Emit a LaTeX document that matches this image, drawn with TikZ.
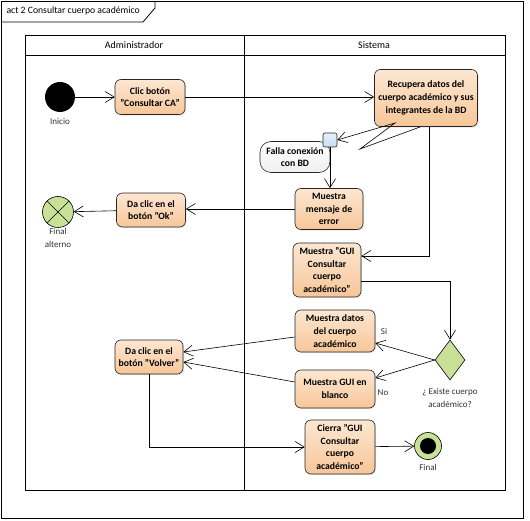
\documentclass[tikz,border=0pt]{standalone}
\usepackage{fontspec}
\setmainfont{Carlito}
\usetikzlibrary{arrows.meta,shapes.geometric,shadows}

\definecolor{naranjaclaro}{RGB}{252,231,210}
\definecolor{naranja}{RGB}{247,198,152}
\definecolor{verdefin}{RGB}{200,225,150}
\definecolor{azulpin}{RGB}{196,220,245}

\tikzset{
  flujo/.style={-{Straight Barb[length=9pt,width=11pt]}, line width=0.6pt},
  accion/.style={draw=black!85, line width=0.6pt, rounded corners=6pt,
    top color=naranjaclaro, bottom color=naranja, align=center,
    font=\fontsize{9.7}{12.7}\selectfont\bfseries, inner sep=1pt,
    drop shadow={opacity=0.2, shadow xshift=1.2pt, shadow yshift=-1.2pt}},
  etiqueta/.style={font=\fontsize{9}{12.7}\selectfont, align=center, text=black!80},
  carril/.style={line width=0.8pt},
}

\begin{document}
\begin{tikzpicture}[x=1pt, y=-1pt]
            \useasboundingbox (0,0) rectangle (530,521);

            % marco y titulo
            \draw[carril] (1,1) rectangle (523,518);
            \draw[carril] (1,22) -- (143,22) -- (155,8) -- (155,1);
            \node[anchor=west, font=\fontsize{9.7}{11}\selectfont] (titulo) at (3,11) {act 2 Consultar cuerpo académico};

            % carriles
            \draw[carril] (25,35) rectangle (505,490);
            \draw[carril] (25,55) -- (505,55);
            \draw[carril] (244,35) -- (244,490);
            \node[font=\fontsize{10}{11}\selectfont] (admin) at (134,45) {Administrador};
            \node[font=\fontsize{10}{11}\selectfont] (sistema) at (374,45) {Sistema};

            % nodos
            \node[circle, fill=black, minimum size=30pt, inner sep=0pt] (inicio) at (60,97) {};
            \node[etiqueta] (tinicio) at (60,121) {Inicio};
            \node[accion, minimum width=70pt, minimum height=35pt] (clic) at (150,97) {Clic botón\\"Consultar CA"};
            \node[accion, minimum width=103pt, minimum height=57pt] (recupera) at (426,98) {Recupera datos del\\cuerpo académico y sus\\integrantes de la BD};
            \node[draw=black!85, line width=0.6pt, rounded corners=11pt, top color=white, bottom color=black!6,
                  minimum width=70pt, minimum height=31pt, align=center, inner sep=1pt,
                  font=\fontsize{9.7}{12.7}\selectfont\bfseries] (falla) at (295,157) {Falla conexión\\con BD};
            \node[draw=black!85, line width=0.6pt, rounded corners=2pt, top color=azulpin!40, bottom color=azulpin,
                  minimum size=14pt, inner sep=0pt] (pin) at (330,140) {};
            \node[accion, minimum width=68pt, minimum height=41pt] (mensaje) at (329,209) {Muestra\\mensaje de\\error};
            \node[accion, minimum width=69pt, minimum height=34pt] (ok) at (151,210) {Da clic en el\\botón "Ok"};
            \node[circle, draw, line width=0.6pt, fill=verdefin, minimum size=31pt, inner sep=0pt] (falt) at (58,212) {};
            \node[etiqueta] (tfalt) at (58,238) {Final\\alterno};
            \node[accion, minimum width=68pt, minimum height=54pt] (gui) at (327,270) {Muestra "GUI\\Consultar\\cuerpo\\académico"};
            \node[diamond, draw, line width=0.6pt, fill=verdefin, minimum width=30pt, minimum height=40pt, inner sep=0pt] (existe) at (450,360) {};
            \node[etiqueta] (texiste) at (450,398) {¿ Existe cuerpo\\académico?};
            \node[accion, minimum width=80pt, minimum height=42pt] (datos) at (335,331) {Muestra datos\\del cuerpo\\académico};
            \node[accion, minimum width=80pt, minimum height=38pt] (blanco) at (335,389) {Muestra GUI en\\blanco};
            \node[accion, minimum width=68pt, minimum height=34pt] (volver) at (149,357) {Da clic en el\\botón "Volver"};
            \node[accion, minimum width=70pt, minimum height=54pt] (cierra) at (340,447) {Cierra "GUI\\Consultar\\cuerpo\\académico"};
            \node[circle, draw, line width=0.6pt, fill=verdefin, minimum size=27pt, inner sep=0pt] (final) at (428,446) {};
            \node[circle, fill=black, minimum size=16pt, inner sep=0pt] (finalpunto) at (final) {};
            \node[etiqueta] (tfinal) at (428,467) {Final};

            \draw[line width=0.6pt] (falt.north west) -- (falt.south east);
            \draw[line width=0.6pt] (falt.north east) -- (falt.south west);

            % rayo de la excepcion
            \coordinate (rayo0) at (420,127);
            \coordinate (rayo1) at (360,149);
            \coordinate (rayo2) at (395,123);

            % flujos
            \draw[flujo] (inicio) -- (clic);
            \draw[flujo] (clic.east) -- (clic.east -| recupera.west);
            \draw[flujo] (rayo0) -- (rayo1) -- (rayo2) -- (pin.east);
            \draw[flujo] (pin.south) -- (pin.south |- mensaje.north);
            \draw[flujo] (mensaje.west) -- (mensaje.west -| ok.east);
            \draw[flujo] (ok) -- (falt);
            \draw[flujo] ([xshift=3pt]recupera.south) |- ([yshift=14pt]gui.east);
            \draw[flujo] ([yshift=-11pt]gui.east) -| (existe.north);
            \draw[flujo] (existe.west) -- ([yshift=-12pt]datos.east);
            \draw[flujo] (existe.west) -- ([yshift=11pt]blanco.east);
            \draw[flujo] ([yshift=-6pt]datos.west) -- ([yshift=5pt]volver.east);
            \draw[flujo] ([yshift=7pt]blanco.west) -- ([yshift=-5pt]volver.east);
            \draw[flujo] (volver.south) |- (cierra.west);
            \draw[flujo] (cierra) -- (final);

            \node[etiqueta] (tsi) at (384,331) {Si};
            \node[etiqueta] (tno) at (383,393) {No};

        \end{tikzpicture}
\end{document}
